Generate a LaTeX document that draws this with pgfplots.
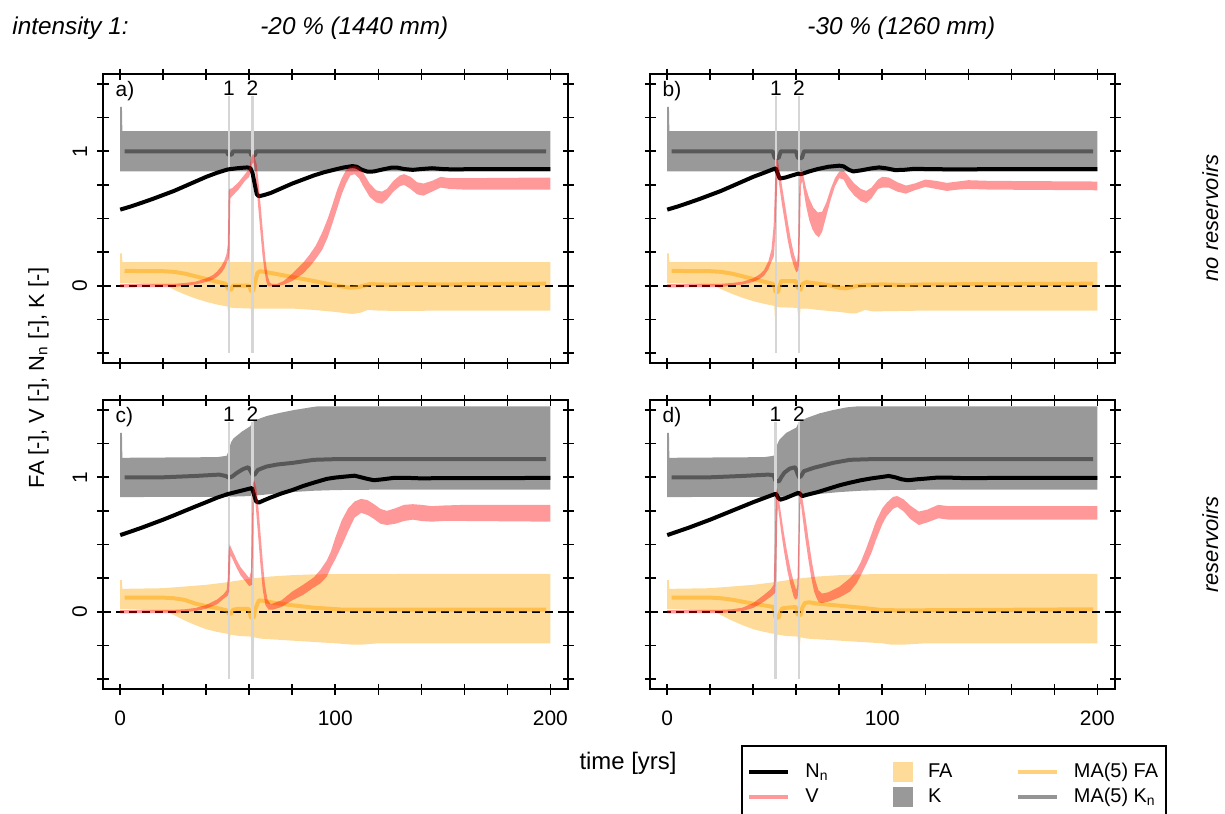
\documentclass[border=0pt]{standalone}
\usepackage{fontspec}
\setmainfont{Liberation Sans}
\usepackage{pgfplots}
\pgfplotsset{compat=1.18}
\definecolor{kband}{gray}{0.6}
\definecolor{faband}{RGB}{255,219,153}
\definecolor{evc}{RGB}{214,214,214}
\definecolor{myorange}{RGB}{255,165,0}
\tikzset{
  kb/.style={fill=kband, draw=none},
  fab/.style={fill=faband, draw=none},
  zl/.style={black, line width=0.8bp, dash pattern=on 4bp off 2.5bp},
  mak/.style={black, opacity=0.42, line width=2bp, line join=round},
  mafa/.style={myorange, opacity=0.5, line width=2bp, line join=round},
  ev/.style={evc, line width=1.3bp},
  nn/.style={black, line width=2bp, line join=round},
  vb/.style={fill=red, fill opacity=0.4, draw=none},
  lab/.style={font=\fontsize{10.5}{12}\selectfont, inner sep=0pt},
  ttl/.style={font=\itshape\fontsize{12.2}{14}\selectfont, inner sep=0pt, anchor=base west},
}
\pgfplotsset{
  panel/.style={
    scale only axis, width=232.5bp, height=144.5bp,
    xmin=-8, xmax=208.2, ymin=-0.575, ymax=1.575,
    xtick={0,20,40,60,80,100,120,140,160,180,200},
    ytick={-0.5,-0.25,0,0.25,0.5,0.75,1,1.25,1.5},
    xticklabels={}, yticklabels={},
    tick align=center, major tick length=5.5bp,
    every tick/.style={black, line width=0.8bp},
    axis line style={line width=1bp},
    tick label style={font=\fontsize{10.5}{12}\selectfont, inner sep=0pt},
    /pgf/number format/assume math mode=true,
    xticklabel shift=8bp, yticklabel shift=5bp,
    yticklabel style={rotate=90, anchor=south},
    anchor=north west,
  },
  xlab/.style={xticklabels={0,,,,,100,,,,,200}},
  ylab/.style={yticklabels={,,0,,,,1,,}},
}
\begin{document}
\begin{tikzpicture}
\useasboundingbox (0,0) rectangle (612.5bp,-407bp);

% ---------------- panel a ----------------
\begin{axis}[panel, ylab, at={(51.5bp,-37bp)}]
\addplot[kb] coordinates {(0,0.85)(0,1.33)(0.8,1.33)(1.0,1.15)(200,1.15)(200,0.85)} -- cycle;
\addplot[fab] coordinates {(0,0.02)(0,0.24)(0.8,0.24)(1,0.176)(200,0.176)(200,-0.185)(150,-0.185)(130,-0.188)(120,-0.185)(115,-0.18)(112,-0.2)(108,-0.21)(100,-0.195)(90,-0.18)(80,-0.17)(64,-0.17)(62.1,-0.17)(61.8,-0.24)(61.2,-0.24)(60.9,-0.17)(52,-0.165)(51.1,-0.16)(50.8,-0.22)(50.2,-0.22)(49.9,-0.155)(45,-0.14)(40,-0.12)(35,-0.095)(30,-0.065)(25,-0.03)(22,0.0)(10,0.015)(1,0.02)} -- cycle;
\addplot[zl] coordinates {(-8,0)(208.2,0)};
\addplot[mak] coordinates {(2,1.0)(49.5,1.0)(50.2,0.975)(51.8,0.975)(52.5,1.0)(60.3,1.0)(61,0.97)(62.6,0.97)(63.3,1.0)(198,1.0)};
\addplot[mafa] coordinates {(2,0.11)(20,0.108)(25,0.103)(30,0.09)(35,0.07)(40,0.05)(45,0.03)(49,0.015)(50.3,-0.025)(51.6,-0.03)(52.4,0.0)(60,0.0)(60.8,-0.04)(61.8,-0.04)(62.6,0.02)(63.8,0.095)(65,0.108)(70,0.095)(80,0.065)(90,0.035)(96,0.015)(103,-0.005)(107,-0.015)(111,-0.01)(116,0.012)(125,0.008)(135,0.012)(150,0.01)(198,0.015)};
\addplot[ev] coordinates {(50.5,-0.5)(50.5,1.41)};
\addplot[ev] coordinates {(61.5,-0.5)(61.5,1.41)};
\addplot[nn] coordinates {(0,0.566)(5,0.59)(10,0.617)(15,0.645)(20,0.675)(25,0.705)(30,0.74)(35,0.775)(40,0.81)(45,0.84)(50,0.865)(55,0.875)(59,0.88)(60.5,0.875)(61.5,0.84)(62.5,0.76)(63.5,0.68)(64.5,0.665)(67,0.675)(70,0.69)(75,0.725)(80,0.76)(85,0.79)(90,0.82)(95,0.845)(100,0.865)(104,0.88)(108,0.89)(110,0.885)(112,0.865)(115,0.848)(118,0.85)(122,0.865)(126,0.878)(129,0.878)(132,0.868)(136,0.862)(140,0.868)(145,0.874)(150,0.868)(155,0.865)(165,0.868)(200,0.868)};
\addplot[vb] coordinates {(0,0.012)(25,0.014)(30,0.02)(35,0.03)(40,0.055)(43,0.078)(45,0.105)(47,0.145)(48.5,0.19)(49.5,0.24)(50,0.3)(50.2,0.45)(50.4,0.7)(50.8,0.72)(52,0.725)(55,0.77)(58,0.83)(60,0.87)(60.8,0.95)(61.7,0.98)(62.3,0.97)(63.5,0.9)(64.5,0.74)(65.5,0.56)(66.5,0.37)(67.5,0.2)(68.5,0.08)(69.5,0.025)(70.5,0.014)(73,0.014)(76,0.035)(80,0.09)(85,0.17)(88,0.23)(91,0.3)(94,0.4)(96.5,0.5)(99,0.62)(101,0.72)(103,0.8)(105,0.86)(107,0.885)(109,0.89)(111,0.88)(113,0.84)(116,0.76)(119,0.71)(121.7,0.7)(124,0.72)(127,0.78)(130,0.82)(132,0.83)(135,0.81)(138,0.77)(141,0.76)(145,0.78)(149,0.81)(153,0.8)(160,0.8)(200,0.805)
(200,0.715)(160,0.715)(153,0.72)(149,0.73)(145,0.7)(141,0.67)(138,0.68)(135,0.72)(132,0.75)(130,0.74)(127,0.7)(124,0.64)(121.7,0.61)(119,0.62)(116,0.66)(113,0.74)(111,0.8)(109,0.83)(107,0.82)(105,0.76)(103,0.68)(101,0.58)(99,0.48)(96.5,0.36)(94,0.27)(91,0.2)(88,0.14)(85,0.09)(80,0.035)(76,0.008)(73,-0.004)(69,-0.006)(68.5,0.0)(67.8,0.04)(67,0.12)(66.2,0.22)(65.2,0.4)(64.2,0.58)(63.3,0.76)(62.6,0.88)(61.8,0.92)(61.2,0.9)(60.5,0.84)(60,0.81)(58,0.78)(55,0.715)(52,0.665)(51.2,0.65)(51,0.45)(50.8,0.25)(50.4,0.2)(49.5,0.17)(48.5,0.13)(47,0.095)(45,0.065)(43,0.045)(40,0.028)(35,0.009)(30,0.0)(25,-0.01)(0,-0.012)} -- cycle;
\node[lab] at (axis cs:50.5,1.47) {1};
\node[lab] at (axis cs:61.5,1.47) {2};
\node[lab, anchor=west] at (axis cs:-2.3,1.45) {a)};
\end{axis}

% ---------------- panel b ----------------
\begin{axis}[panel, at={(325bp,-37bp)}]
\addplot[kb] coordinates {(0,0.85)(0,1.33)(0.8,1.33)(1.0,1.15)(200,1.15)(200,0.85)} -- cycle;
\addplot[fab] coordinates {(0,0.02)(0,0.24)(0.8,0.24)(1,0.176)(200,0.176)(200,-0.185)(150,-0.185)(120,-0.185)(100,-0.19)(95,-0.19)(92,-0.18)(88,-0.205)(85,-0.205)(80,-0.195)(70,-0.18)(65,-0.17)(62,-0.17)(61.6,-0.24)(60.9,-0.24)(60.5,-0.165)(52,-0.16)(51,-0.16)(50.7,-0.26)(50.1,-0.26)(49.8,-0.15)(45,-0.135)(40,-0.115)(35,-0.09)(30,-0.06)(25,-0.025)(22,0.0)(10,0.015)(1,0.02)} -- cycle;
\addplot[zl] coordinates {(-8,0)(208.2,0)};
\addplot[mak] coordinates {(2,1.0)(49,1.0)(50,0.95)(51.8,0.95)(52.8,1.0)(59.8,1.0)(60.8,0.95)(62.6,0.95)(63.6,1.0)(198,1.0)};
\addplot[mafa] coordinates {(2,0.11)(20,0.108)(25,0.103)(30,0.09)(35,0.07)(40,0.05)(45,0.03)(49,0.015)(49.8,0.0)(50.3,-0.045)(51.5,-0.047)(52.3,0.0)(53,0.035)(59.8,0.035)(60.5,-0.01)(62,-0.03)(62.8,0.01)(64.5,0.027)(70,0.015)(75,0.005)(80,-0.015)(83,-0.02)(87,-0.005)(92,0.005)(100,0.01)(110,0.005)(120,0.01)(198,0.015)};
\addplot[ev] coordinates {(50.5,-0.5)(50.5,1.41)};
\addplot[ev] coordinates {(61.3,-0.5)(61.3,1.41)};
\addplot[nn] coordinates {(0,0.566)(5,0.59)(10,0.617)(15,0.645)(20,0.675)(25,0.705)(30,0.74)(35,0.775)(40,0.81)(45,0.84)(49,0.865)(50.5,0.873)(51.5,0.83)(52.3,0.797)(55,0.805)(58,0.82)(61,0.834)(62,0.83)(63,0.834)(66,0.85)(70,0.868)(75,0.885)(80,0.893)(82,0.888)(84.5,0.862)(86.5,0.85)(90,0.858)(95,0.873)(98.5,0.88)(102,0.873)(106,0.86)(110,0.862)(115,0.87)(120,0.868)(130,0.866)(200,0.868)};
\addplot[vb] coordinates {(0,0.012)(25,0.014)(30,0.02)(35,0.03)(40,0.055)(43,0.085)(45,0.115)(47,0.18)(48.5,0.27)(49.5,0.45)(50.1,0.75)(50.6,0.94)(51.2,0.95)(52,0.88)(53.2,0.76)(54.6,0.62)(56,0.48)(57.5,0.34)(59,0.23)(60.3,0.17)(60.8,0.25)(61.2,0.6)(61.7,0.83)(62.3,0.87)(63.3,0.82)(64.5,0.73)(66,0.65)(68,0.58)(70,0.545)(72,0.55)(74,0.62)(76,0.72)(78,0.8)(80,0.85)(82,0.855)(84,0.82)(87,0.76)(90,0.72)(92.5,0.705)(95,0.73)(98,0.79)(100,0.81)(103,0.805)(107,0.77)(111,0.745)(115,0.76)(120,0.79)(125,0.78)(130,0.765)(135,0.775)(140,0.785)(150,0.78)(200,0.775)
(200,0.71)(150,0.715)(140,0.72)(135,0.715)(130,0.705)(125,0.72)(120,0.735)(115,0.71)(111,0.685)(107,0.7)(103,0.73)(100,0.73)(98,0.72)(95,0.65)(92.5,0.615)(90,0.63)(87,0.67)(84,0.73)(82,0.79)(80,0.8)(78,0.74)(76,0.64)(74,0.52)(72,0.4)(70.5,0.36)(69,0.38)(67.5,0.42)(66,0.49)(64.5,0.6)(63.5,0.7)(62.8,0.78)(62.2,0.75)(61.7,0.4)(61.2,0.15)(60.8,0.11)(60,0.1)(58.8,0.15)(57.5,0.22)(56,0.34)(54.6,0.48)(53.2,0.62)(52,0.76)(51.4,0.83)(51,0.7)(50.3,0.4)(49.6,0.22)(48.5,0.18)(47,0.12)(45,0.075)(43,0.05)(40,0.028)(35,0.009)(30,0.0)(25,-0.01)(0,-0.012)} -- cycle;
\node[lab] at (axis cs:50.5,1.47) {1};
\node[lab] at (axis cs:61.3,1.47) {2};
\node[lab, anchor=west] at (axis cs:-2.3,1.45) {b)};
\end{axis}

% ---------------- panel c ----------------
\begin{axis}[panel, xlab, ylab, at={(51.5bp,-200bp)}]
\addplot[kb] coordinates {(0,0.853)(0,1.33)(0.8,1.33)(1.0,1.145)(45,1.15)(49.5,1.16)(50.5,1.2)(51.5,1.26)(52.7,1.29)(56.6,1.34)(60.5,1.38)(61.5,1.41)(63.6,1.43)(68.2,1.456)(74.4,1.48)(80.6,1.5)(88.4,1.52)(91.5,1.527)(200,1.527)(200,0.908)(120,0.908)(100,0.905)(90,0.9)(80,0.89)(70,0.875)(60,0.86)(50,0.855)(1,0.853)} -- cycle;
\addplot[fab] coordinates {(0,0.02)(0,0.235)(0.8,0.235)(1,0.17)(20,0.175)(40,0.2)(50,0.22)(60,0.245)(70,0.262)(80,0.272)(90,0.278)(100,0.28)(200,0.282)(200,-0.235)(120,-0.235)(112,-0.245)(108,-0.245)(100,-0.235)(90,-0.225)(80,-0.215)(70,-0.205)(65,-0.2)(62.3,-0.19)(61.9,-0.31)(61.3,-0.31)(60.9,-0.185)(55,-0.18)(51.3,-0.17)(51,-0.21)(50.4,-0.21)(50,-0.165)(45,-0.15)(40,-0.13)(35,-0.1)(30,-0.065)(25,-0.025)(22,0.0)(10,0.015)(1,0.02)} -- cycle;
\addplot[zl] coordinates {(-8,0)(208.2,0)};
\addplot[mak] coordinates {(2,1.0)(20,1.0)(35,1.01)(46,1.02)(49,1.01)(50.5,0.998)(52,1.005)(54,1.03)(57,1.06)(59.5,1.075)(60.5,1.05)(61.5,1.02)(62.5,1.02)(64,1.055)(68,1.08)(73,1.095)(80,1.107)(90,1.13)(100,1.135)(198,1.135)};
\addplot[mafa] coordinates {(2,0.105)(20,0.105)(25,0.1)(30,0.088)(35,0.06)(40,0.042)(46.5,0.022)(49.5,0.01)(50.5,-0.015)(51.5,-0.015)(52.5,0.015)(55,0.022)(59.8,0.02)(60.8,-0.045)(62,-0.045)(62.8,0.02)(64.5,0.085)(67,0.08)(72,0.065)(80.6,0.047)(90,0.03)(104,0.015)(120,0.015)(198,0.015)};
\addplot[ev] coordinates {(50.5,-0.5)(50.5,1.41)};
\addplot[ev] coordinates {(61.5,-0.5)(61.5,1.41)};
\addplot[nn] coordinates {(0,0.57)(5,0.597)(10,0.625)(15,0.655)(20,0.685)(25,0.717)(30,0.75)(35,0.783)(40,0.815)(45,0.848)(50,0.875)(55,0.895)(60,0.915)(61.3,0.92)(62.2,0.87)(63.2,0.82)(64.5,0.812)(67,0.83)(70,0.85)(75,0.88)(80,0.905)(85,0.935)(90,0.96)(96,0.988)(100,0.998)(105,1.006)(109,1.012)(112,1.0)(115,0.988)(118,0.978)(122,0.985)(127,0.995)(133,0.996)(140,0.992)(150,0.994)(200,0.995)};
\addplot[vb] coordinates {(0,0.012)(25,0.014)(30,0.018)(35,0.028)(40,0.05)(45,0.09)(48,0.13)(49.5,0.16)(50,0.25)(50.4,0.45)(50.9,0.5)(52,0.46)(54,0.39)(56,0.33)(58,0.29)(60,0.25)(60.8,0.3)(61.2,0.6)(61.7,0.95)(62.3,0.98)(63.3,0.92)(64.3,0.77)(65.3,0.57)(66.3,0.37)(67.3,0.2)(68.5,0.09)(70,0.055)(75,0.085)(80,0.15)(85,0.2)(90,0.255)(93,0.31)(96,0.38)(98,0.45)(100,0.55)(103,0.68)(106,0.77)(109,0.82)(112,0.84)(115,0.83)(118,0.8)(121,0.765)(124,0.75)(128,0.77)(132,0.795)(136,0.8)(140,0.795)(145,0.785)(150,0.79)(160,0.795)(200,0.795)
(200,0.67)(160,0.675)(150,0.675)(145,0.67)(140,0.675)(136,0.685)(132,0.675)(128,0.655)(124,0.645)(121,0.655)(118,0.69)(115,0.72)(112,0.735)(109,0.7)(106,0.6)(103,0.49)(100,0.39)(98,0.33)(96,0.26)(93,0.21)(90,0.18)(85,0.125)(80,0.085)(75,0.035)(71,0.015)(69,0.015)(67.5,0.05)(66.3,0.16)(65.3,0.33)(64.3,0.53)(63.3,0.73)(62.5,0.88)(62.1,0.88)(61.8,0.5)(61.3,0.2)(60,0.19)(58,0.23)(56,0.27)(54,0.33)(52,0.4)(51.3,0.42)(51,0.3)(50.6,0.15)(50,0.12)(48,0.095)(45,0.055)(40,0.022)(35,0.005)(30,-0.003)(25,-0.01)(0,-0.012)} -- cycle;
\node[lab] at (axis cs:50.5,1.47) {1};
\node[lab] at (axis cs:61.5,1.47) {2};
\node[lab, anchor=west] at (axis cs:-2.3,1.45) {c)};
\end{axis}

% ---------------- panel d ----------------
\begin{axis}[panel, xlab, at={(325bp,-200bp)},
  legend columns=3,
  legend cell align=left,
  legend image code/.code={\draw[#1] (0bp,0bp) -- (19.5bp,0bp);},
  legend style={at={(0.1957,-0.1938)}, anchor=north west, draw=black, line width=1bp,
    inner xsep=2.5bp, inner ysep=6.5bp, row sep=0pt, column sep=0pt,
    font=\fontsize{10}{12}\selectfont,
    /tikz/every odd column/.append style={column sep=5.7bp}},
]
\addlegendimage{black, line width=2bp}
\addlegendentry{\makebox[41.7bp][l]{N\textsubscript{n}}}
\addlegendimage{legend image code/.code={\fill[faband] (5.25bp,-4.5bp) rectangle (14.25bp,4.5bp);}}
\addlegendentry{\makebox[41.7bp][l]{FA}}
\addlegendimage{myorange, opacity=0.5, line width=2bp}
\addlegendentry{\makebox[41.7bp][l]{MA(5) FA}}
\addlegendimage{red, opacity=0.4, line width=2bp}
\addlegendentry{\makebox[41.7bp][l]{V}}
\addlegendimage{legend image code/.code={\fill[kband] (5.25bp,-4.5bp) rectangle (14.25bp,4.5bp);}}
\addlegendentry{\makebox[41.7bp][l]{K}}
\addlegendimage{black, opacity=0.42, line width=2bp}
\addlegendentry{\makebox[41.7bp][l]{MA(5) K\textsubscript{n}}}
\addplot[kb, forget plot] coordinates {(0,0.853)(0,1.33)(0.8,1.33)(1.0,1.145)(45,1.15)(49.5,1.16)(50.3,1.2)(50.7,1.23)(52.2,1.28)(55.3,1.33)(60,1.37)(61.2,1.41)(64.7,1.44)(70.9,1.476)(77,1.5)(83.3,1.52)(88,1.527)(200,1.527)(200,0.908)(120,0.908)(100,0.905)(90,0.9)(80,0.89)(70,0.875)(60,0.86)(50,0.855)(1,0.853)} -- cycle;
\addplot[fab, forget plot] coordinates {(0,0.02)(0,0.235)(0.8,0.235)(1,0.17)(20,0.175)(40,0.2)(50,0.22)(60,0.245)(70,0.262)(80,0.272)(90,0.278)(100,0.28)(200,0.282)(200,-0.235)(120,-0.235)(110,-0.245)(104,-0.245)(100,-0.235)(90,-0.225)(80,-0.215)(70,-0.205)(65,-0.2)(62,-0.19)(61.6,-0.27)(61,-0.27)(60.6,-0.185)(55,-0.18)(51.3,-0.17)(50.9,-0.27)(50.3,-0.27)(49.9,-0.165)(45,-0.15)(40,-0.13)(35,-0.1)(30,-0.065)(25,-0.025)(22,0.0)(10,0.015)(1,0.02)} -- cycle;
\addplot[zl, forget plot] coordinates {(-8,0)(208.2,0)};
\addplot[mak, forget plot] coordinates {(2,1.0)(20,1.0)(35,1.01)(47,1.02)(49.5,1.015)(50.3,0.975)(52,0.97)(53,1.0)(54.5,1.035)(57,1.065)(59.5,1.075)(60.5,1.03)(61.3,1.0)(62.3,1.01)(63.5,1.045)(68,1.07)(77,1.107)(85,1.13)(95,1.135)(198,1.135)};
\addplot[mafa, forget plot] coordinates {(2,0.105)(20,0.105)(25,0.1)(30,0.09)(35,0.075)(40,0.06)(46,0.045)(49.5,0.035)(50.3,-0.04)(51.8,-0.045)(52.6,0.0)(53.5,0.025)(56,0.03)(59.8,0.035)(60.6,-0.02)(62,-0.025)(62.8,0.03)(64,0.065)(66,0.07)(70,0.06)(80,0.045)(90,0.03)(100,0.012)(110,0.01)(198,0.018)};
\addplot[ev, forget plot] coordinates {(50.3,-0.5)(50.3,1.41)};
\addplot[ev, forget plot] coordinates {(61.3,-0.5)(61.3,1.41)};
\addplot[nn, forget plot] coordinates {(0,0.57)(10,0.625)(20,0.685)(30,0.75)(40,0.815)(45,0.845)(50,0.875)(50.7,0.875)(51.5,0.85)(52.5,0.833)(55,0.845)(58,0.865)(61,0.885)(61.8,0.875)(62.8,0.86)(65,0.87)(70,0.89)(75,0.915)(80,0.94)(85,0.96)(90,0.978)(95,0.992)(100,1.003)(103,1.01)(106,1.0)(109,0.985)(112,0.978)(116,0.985)(120,0.99)(125,0.997)(130,0.998)(140,0.993)(150,0.995)(200,0.995)};
\addplot[vb, forget plot] coordinates {(0,0.012)(25,0.014)(30,0.018)(35,0.03)(40,0.065)(45,0.125)(48,0.165)(49.5,0.2)(50,0.5)(50.5,0.88)(51.1,0.92)(51.8,0.85)(53,0.72)(54.3,0.58)(55.8,0.44)(57.3,0.32)(58.8,0.22)(60,0.16)(60.5,0.2)(61,0.55)(61.5,0.88)(62.1,0.91)(63,0.83)(64.3,0.7)(65.8,0.53)(67.3,0.37)(68.8,0.24)(70.3,0.16)(72,0.135)(75,0.145)(80,0.185)(85,0.25)(88,0.31)(90,0.37)(92.5,0.47)(95,0.58)(97,0.67)(100,0.77)(102,0.81)(105,0.855)(107,0.86)(110,0.835)(113,0.79)(117,0.745)(121,0.76)(126,0.795)(131,0.785)(140,0.785)(200,0.785)
(200,0.685)(140,0.685)(131,0.685)(126,0.695)(121,0.665)(117,0.645)(113,0.69)(110,0.745)(107,0.78)(105,0.765)(102,0.71)(100,0.65)(97,0.53)(95,0.44)(92.5,0.35)(90,0.27)(88,0.21)(85,0.15)(80,0.105)(75,0.075)(72,0.065)(70.5,0.07)(69.5,0.1)(68.3,0.15)(67,0.25)(65.5,0.4)(64,0.57)(62.8,0.72)(62.2,0.8)(61.9,0.8)(61.5,0.5)(61.1,0.2)(60.6,0.1)(59.5,0.09)(58.8,0.11)(57.3,0.2)(55.8,0.31)(54.3,0.45)(53,0.59)(52,0.72)(51.5,0.78)(51.2,0.7)(50.7,0.3)(50.2,0.14)(48,0.11)(45,0.075)(40,0.028)(35,0.005)(30,-0.003)(25,-0.01)(0,-0.012)} -- cycle;
\node[lab] at (axis cs:50.3,1.47) {1};
\node[lab] at (axis cs:61.3,1.47) {2};
\node[lab, anchor=west] at (axis cs:-2.3,1.45) {d)};
\end{axis}

% ---------------- outer texts ----------------
\node[ttl] at (6bp,-17.2bp) {intensity 1:};
\node[ttl] at (130bp,-17.2bp) {-20 \% (1440 mm)};
\node[ttl] at (403.5bp,-17.2bp) {-30 \% (1260 mm)};
\node[lab, font=\fontsize{11}{13}\selectfont, rotate=90, anchor=base] at (22.1bp,-189bp) {FA [-], V [-], N\textsubscript{n} [-], K [-]};
\node[lab, font=\fontsize{12}{14}\selectfont, anchor=base] at (314bp,-384.5bp) {time [yrs]};
\node[lab, font=\itshape\fontsize{11}{13}\selectfont, rotate=90, anchor=base] at (609bp,-109bp) {no reservoirs};
\node[lab, font=\itshape\fontsize{11}{13}\selectfont, rotate=90, anchor=base] at (609bp,-272.25bp) {reservoirs};
\end{tikzpicture}
\end{document}
